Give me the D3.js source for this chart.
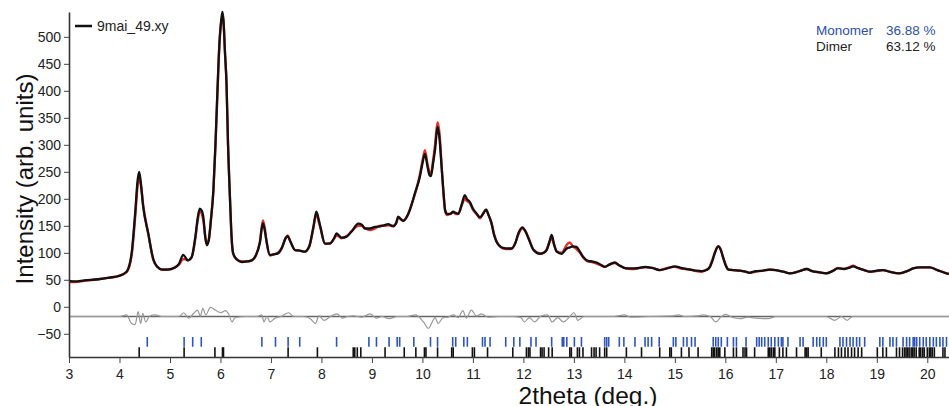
<!DOCTYPE html>
<html>
<head>
<meta charset="utf-8">
<script src="https://cdn.jsdelivr.net/npm/d3@7"></script>
<style>
	body { margin: 0; background: #fff; }
	svg { display: block; font-family: "Liberation Sans", Arial, sans-serif; }
</style>
</head>
<body>
<svg id="chart" width="949" height="406"></svg>
<script>

// 2theta positions of the profile points
var twoTheta = [3.00,3.12,3.30,3.58,3.80,3.98,4.14,4.24,4.31,4.36,4.39,4.42,4.47,4.57,4.67,4.75,4.84,4.95,5.10,5.18,
	5.26,5.31,5.35,5.43,5.50,5.55,5.59,5.63,5.66,5.70,5.73,5.77,5.81,5.86,5.90,5.94,5.98,6.02,6.04,6.06,
	6.09,6.12,6.15,6.19,6.22,6.25,6.32,6.42,6.52,6.62,6.70,6.78,6.84,6.88,6.91,6.98,7.05,7.14,7.22,7.29,
	7.33,7.38,7.48,7.57,7.67,7.76,7.84,7.90,7.95,7.98,8.07,8.17,8.25,8.30,8.35,8.40,8.50,8.60,8.73,8.80,
	8.86,8.96,9.06,9.16,9.24,9.32,9.42,9.48,9.52,9.57,9.62,9.70,9.75,9.85,9.95,10.00,10.05,10.10,10.14,10.17,
	10.21,10.25,10.30,10.34,10.38,10.42,10.45,10.49,10.55,10.61,10.66,10.71,10.78,10.84,10.88,10.94,11.00,11.07,11.14,11.20,
	11.26,11.31,11.37,11.42,11.47,11.55,11.60,11.70,11.77,11.84,11.90,11.98,12.04,12.10,12.20,12.33,12.40,12.46,12.52,12.56,
	12.61,12.66,12.76,12.82,12.86,12.92,12.98,13.05,13.12,13.18,13.28,13.36,13.45,13.53,13.61,13.70,13.81,13.90,14.04,14.20,
	14.30,14.41,14.55,14.70,14.85,15.00,15.12,15.30,15.42,15.53,15.62,15.69,15.74,15.79,15.86,15.91,15.96,16.01,16.06,16.15,
	16.29,16.40,16.48,16.60,16.75,16.88,17.00,17.15,17.28,17.40,17.50,17.61,17.72,17.85,18.00,18.12,18.23,18.35,18.45,18.53,
	18.62,18.75,18.86,19.00,19.12,19.25,19.45,19.60,19.72,19.85,20.05,20.20,20.38,20.43];

// observed intensity (9mai_49.xy)
var observed = [48,47,49,51,54,57,65,99,173,235,250,232,185,136,88,74,69,69,73,80,
	96,91,86,92,128,165,182,178,167,128,114,124,160,216,300,400,490,535,546,530,
	470,414,300,198,130,100,88,83,84,86,95,118,155,140,123,96,97,99,110,127,
	131,122,105,104,102,112,148,176,160,148,117,117,127,136,132,128,130,140,154,152,
	145,145,148,149,151,153,149,155,167,163,159,168,179,210,241,265,283,260,244,242,
	265,290,333,310,259,210,179,172,172,176,174,172,190,207,200,194,182,173,166,172,
	180,170,154,133,120,111,109,108,108,118,136,147,140,127,105,98,100,105,122,133,
	115,102,98,104,108,110,112,111,102,93,85,84,82,78,74,78,82,77,71,71,
	72,74,72,68,71,75,72,69,67,66,68,73,84,99,112,105,90,76,69,68,
	67,65,63,66,67,69,68,65,62,64,67,70,66,64,62,66,71,70,72,75,
	72,68,65,67,68,65,62,66,71,73,73,68,62,61];

// calculated intensity
var calculated = [46,46,48,51,54,57,64,95,165,225,238,228,188,135,87,74,69,69,73,78,
	88,88,86,92,125,160,178,172,160,130,116,125,160,215,295,395,485,530,540,528,
	470,412,300,196,128,98,88,84,84,86,95,120,160,145,122,95,97,100,110,127,
	132,122,105,104,102,112,145,172,156,146,117,118,126,132,130,127,131,140,150,150,
	146,142,145,150,150,151,150,155,165,162,160,168,180,208,245,270,290,265,250,247,
	270,300,342,320,262,205,178,170,172,175,172,172,188,200,196,192,180,172,164,172,
	180,170,155,134,121,111,108,107,108,118,134,145,140,128,106,99,100,106,120,128,
	114,103,100,108,115,119,112,107,100,92,84,83,80,77,74,78,81,76,71,70,
	72,73,72,68,72,74,71,69,66,65,68,74,86,100,112,106,90,77,69,68,
	67,65,63,65,67,69,68,65,62,64,67,70,66,64,62,66,72,70,73,76,
	72,68,65,66,68,65,62,66,71,73,73,68,62,61];

// difference curve (obs - calc, offset)
var diffTheta = [3.00,4.00,4.14,4.24,4.31,4.37,4.42,4.46,4.52,4.60,4.70,4.85,5.10,5.20,5.27,5.37,5.47,5.55,5.60,5.65,
	5.71,5.80,5.90,6.00,6.10,6.16,6.23,6.29,6.50,6.72,6.82,6.86,6.92,6.98,7.08,7.20,7.35,7.45,7.65,7.78,
	7.88,7.95,8.05,8.18,8.31,8.41,8.52,8.64,8.80,8.96,9.09,9.20,9.34,9.50,9.70,9.86,10.02,10.12,10.18,10.25,
	10.31,10.41,10.51,10.61,10.71,10.80,10.87,10.97,11.07,11.17,11.30,11.50,11.80,11.95,12.02,12.12,12.22,12.35,12.48,12.57,
	12.68,12.79,12.92,13.00,13.08,13.20,13.50,13.80,14.00,14.12,14.50,14.97,15.07,15.20,15.46,15.56,15.70,15.81,15.92,16.01,
	16.12,16.29,16.45,16.60,16.85,17.00,17.50,18.00,18.17,18.30,18.41,18.52,19.00,20.43];
var diffValues = [-18,-18,-15,-31,-33,-9,-31,-12,-28,-17,-15,-18,-18,-17,-11,-21,-12,-6,-18,-3,
	-15,-1,-6,-11,-7,-13,-28,-20,-18,-18,-15,-28,-18,-28,-21,-18,-11,-18,-18,-22,
	-31,-17,-25,-18,-13,-21,-18,-17,-19,-13,-21,-18,-22,-18,-18,-15,-28,-40,-31,-20,
	-31,-20,-19,-15,-20,-7,-21,-6,-17,-13,-19,-18,-18,-20,-28,-20,-28,-17,-15,-28,
	-20,-28,-18,-11,-25,-18,-18,-18,-15,-19,-18,-17,-15,-18,-17,-15,-18,-28,-18,-14,
	-19,-22,-19,-21,-22,-18,-18,-18,-25,-18,-25,-18,-18,-18];
var diffBaseline = -18;

// reflection positions
var monomerPeaks = [4.55,5.28,5.45,5.62,6.82,7.09,7.34,7.57,8.30,8.94,9.09,9.34,9.50,9.55,9.83,10.16,10.30,10.60,10.66,10.82,
	10.89,11.19,11.24,11.34,11.65,11.81,11.93,12.15,12.25,12.56,12.77,12.80,12.86,13.01,13.15,13.61,13.65,13.69,13.90,13.99,
	14.21,14.41,14.47,14.54,14.69,14.97,15.02,15.17,15.24,15.33,15.40,15.76,15.81,15.86,15.92,16.04,16.16,16.22,16.41,16.62,
	16.67,16.72,16.78,16.85,16.91,16.98,17.05,17.11,17.14,17.24,17.48,17.54,17.74,17.81,17.87,17.94,18.00,18.27,18.33,18.40,
	18.47,18.53,18.60,18.66,18.76,19.06,19.12,19.26,19.32,19.39,19.52,19.59,19.65,19.72,19.75,19.79,19.85,19.92,19.98,20.05,
	20.12,20.18,20.25,20.31,20.38];
var dimerPeaks = [4.39,5.28,5.89,6.04,6.06,7.34,7.92,8.63,8.66,8.71,8.78,9.26,9.64,9.87,10.04,10.07,10.30,10.58,10.61,10.99,
	11.03,11.29,11.79,12.06,12.10,12.13,12.34,12.37,12.41,12.50,12.57,12.92,12.95,13.07,13.11,13.18,13.35,13.40,13.44,13.51,
	13.61,13.65,14.04,14.34,14.70,14.90,14.93,15.13,15.28,15.46,15.73,15.76,15.79,15.83,15.86,15.89,15.99,16.16,16.22,16.35,
	16.39,16.42,16.58,16.85,16.88,16.91,16.95,16.98,17.07,17.14,17.21,17.41,17.58,17.61,17.64,17.90,18.17,18.24,18.30,18.37,
	18.43,18.50,18.56,18.63,18.70,19.01,19.12,19.19,19.39,19.45,19.51,19.55,19.58,19.61,19.64,19.68,19.71,19.74,19.78,19.84,
	19.87,19.91,19.94,20.00,20.04,20.07,20.10,20.14,20.31,20.35];

var xTicks = [3,4,5,6,7,8,9,10,11,12,13,14,15,16,17,18,19,20];
var yTicks = [-50,0,50,100,150,200,250,300,350,400,450,500];

var phaseNames = ["Monomer", "Dimer"];
var phaseFractions = ["36.88 %", "63.12 %"];
var legendLabel = "9mai_49.xy";


var svg = d3.select("#chart");
var plotL = 69, plotR = 949, plotT = 12, plotB = 357;

var x = d3.scaleLinear().domain([3, 20.43]).range([plotL, plotR]);
var y = d3.scaleLinear().domain([-93, 546]).range([plotB, plotT]);

svg.append("clipPath").attr("id", "plotclip")
	.append("rect").attr("x", plotL).attr("y", 0).attr("width", plotR - plotL).attr("height", plotB);

var plot = svg.append("g").attr("clip-path", "url(#plotclip)");

// difference
plot.append("line")
	.attr("x1", x(3)).attr("x2", plotR)
	.attr("y1", y(diffBaseline)).attr("y2", y(diffBaseline))
	.attr("stroke", "#666").attr("stroke-width", 1.6);

var diffLine = d3.line()
	.x(function(d, i) { return x(diffTheta[i]); })
	.y(function(d) { return y(d); })
	.curve(d3.curveMonotoneX);
plot.append("path").datum(diffValues)
	.attr("d", diffLine)
	.attr("fill", "none").attr("stroke", "#999").attr("stroke-width", 1.2);

// profiles
var profile = d3.line()
	.x(function(d, i) { return x(twoTheta[i]); })
	.y(function(d) { return y(d); })
	.curve(d3.curveMonotoneX);

plot.append("path").datum(calculated)
	.attr("d", profile)
	.attr("fill", "none").attr("stroke", "#e8302a").attr("stroke-width", 2.4);
plot.append("path").datum(observed)
	.attr("d", profile)
	.attr("fill", "none").attr("stroke", "#111").attr("stroke-width", 2.3);

// reflection markers
plot.selectAll("line.mono").data(monomerPeaks).enter().append("line")
	.attr("class", "mono")
	.attr("x1", function(d) { return x(d); }).attr("x2", function(d) { return x(d); })
	.attr("y1", y(-56)).attr("y2", y(-74))
	.attr("stroke", "#2d55bd").attr("stroke-width", 1.6);
plot.selectAll("line.dimer").data(dimerPeaks).enter().append("line")
	.attr("class", "dimer")
	.attr("x1", function(d) { return x(d); }).attr("x2", function(d) { return x(d); })
	.attr("y1", y(-75)).attr("y2", plotB)
	.attr("stroke", "#111").attr("stroke-width", 1.6);

// axes
var xAxis = d3.axisBottom(x).tickValues(xTicks).tickFormat(d3.format("d")).tickSize(6).tickSizeOuter(0);
var xMinor = d3.axisBottom(x).tickValues(d3.range(3, 20.41, 0.2)).tickFormat("").tickSize(3).tickSizeOuter(0);
var yAxis = d3.axisLeft(y).tickValues(yTicks).tickFormat(d3.format("d")).tickSize(5).tickSizeOuter(0);
var yMinor = d3.axisLeft(y).tickValues(d3.range(-90, 541, 10)).tickFormat("").tickSize(3).tickSizeOuter(0);

var gx = svg.append("g").attr("transform", "translate(0," + plotB + ")");
gx.call(xMinor);
gx.call(xAxis);
var gy = svg.append("g").attr("transform", "translate(" + plotL + ",0)");
gy.call(yMinor);
gy.call(yAxis);

svg.selectAll(".domain").attr("stroke", "#333").attr("stroke-width", 1.6);
svg.selectAll(".tick line").attr("stroke", "#444");
svg.selectAll(".tick text")
	.attr("fill", "#222")
	.style("font-size", "14px")
	.style("font-family", "'Liberation Sans', Arial, sans-serif");
gx.selectAll(".tick text").attr("dy", "0.9em");

// titles
svg.append("text")
	.attr("x", 588).attr("y", 404)
	.attr("text-anchor", "middle")
	.attr("fill", "#111")
	.style("font-size", "24.5px")
	.text("2theta (deg.)");
svg.append("text")
	.attr("transform", "translate(33,179) rotate(-90)")
	.attr("text-anchor", "middle")
	.attr("fill", "#111")
	.style("font-size", "24px")
	.text("Intensity (arb. units)");

// legend
svg.append("line")
	.attr("x1", 75).attr("x2", 92).attr("y1", 26).attr("y2", 26)
	.attr("stroke", "#111").attr("stroke-width", 2.5);
svg.append("text")
	.attr("x", 97).attr("y", 31)
	.attr("fill", "#222")
	.style("font-size", "14px")
	.text(legendLabel);

var phaseColors = ["#2d4fa8", "#222"];
phaseNames.forEach(function(name, i) {
	svg.append("text")
		.attr("x", 816).attr("y", 35 + i * 16)
		.attr("fill", phaseColors[i])
		.style("font-size", "13.5px")
		.text(name);
	svg.append("text")
		.attr("x", 886).attr("y", 35 + i * 16)
		.attr("fill", phaseColors[i])
		.style("font-size", "13.5px")
		.text(phaseFractions[i]);
});

</script>
</body>
</html>
